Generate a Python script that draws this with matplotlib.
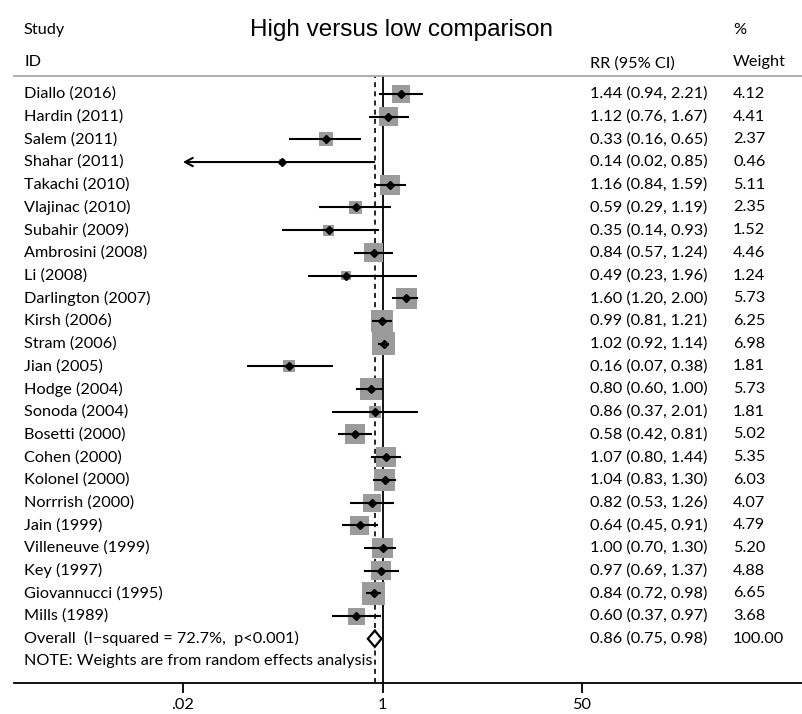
import matplotlib
matplotlib.use("Agg")
import matplotlib.pyplot as plt
import matplotlib.transforms as mtransforms
from matplotlib.patches import Polygon
from matplotlib.lines import Line2D

studies = ["Diallo (2016)", "Hardin (2011)", "Salem (2011)", "Shahar (2011)", "Takachi (2010)",
           "Vlajinac (2010)", "Subahir (2009)", "Ambrosini (2008)", "Li (2008)", "Darlington (2007)",
           "Kirsh (2006)", "Stram (2006)", "Jian (2005)", "Hodge (2004)", "Sonoda (2004)",
           "Bosetti (2000)", "Cohen (2000)", "Kolonel (2000)", "Norrrish (2000)", "Jain (1999)",
           "Villeneuve (1999)", "Key (1997)", "Giovannucci (1995)", "Mills (1989)"]
rr = [1.44, 1.12, 0.33, 0.14, 1.16, 0.59, 0.35, 0.84, 0.49, 1.60, 0.99, 1.02, 0.16, 0.80, 0.86,
      0.58, 1.07, 1.04, 0.82, 0.64, 1.00, 0.97, 0.84, 0.60]
lo = [0.94, 0.76, 0.16, 0.02, 0.84, 0.29, 0.14, 0.57, 0.23, 1.20, 0.81, 0.92, 0.07, 0.60, 0.37,
      0.42, 0.80, 0.83, 0.53, 0.45, 0.70, 0.69, 0.72, 0.37]
hi = [2.21, 1.67, 0.65, 0.85, 1.59, 1.19, 0.93, 1.24, 1.96, 2.00, 1.21, 1.14, 0.38, 1.00, 2.01,
      0.81, 1.44, 1.30, 1.26, 0.91, 1.30, 1.37, 0.98, 0.97]
weights = [4.12, 4.41, 2.37, 0.46, 5.11, 2.35, 1.52, 4.46, 1.24, 5.73, 6.25, 6.98, 1.81, 5.73, 1.81,
           5.02, 5.35, 6.03, 4.07, 4.79, 5.20, 4.88, 6.65, 3.68]
overall_label = "Overall  (I\u2212squared = 72.7%,  p<0.001)"
overall_rr, overall_lo, overall_hi, overall_w = 0.86, 0.75, 0.98, 100.00
note = "NOTE: Weights are from random effects analysis"
title = "High versus low comparison"
tick_vals = [0.02, 1, 50]
tick_labels = [".02", "1", "50"]

W, H = 802, 714
fig = plt.figure(figsize=(W / 100, H / 100), dpi=100)
ax = fig.add_axes([183 / W, (H - 683) / H, 399 / W, (683 - 76) / H])
ax.set_xscale("log")
ax.set_xlim(0.02, 50)
n = len(studies)
ax.set_ylim(25.95, -0.79)
for s in ["top", "left", "right", "bottom"]:
    ax.spines[s].set_visible(False)
ax.set_yticks([])
fs = 11.7
fam = "Lato"
ax.xaxis.set_major_locator(matplotlib.ticker.FixedLocator(tick_vals))
ax.xaxis.set_minor_locator(matplotlib.ticker.NullLocator())
ax.set_xticklabels(tick_labels, fontsize=fs, family=fam)
ax.tick_params(axis="x", length=7, width=1.3, pad=4, direction="out")

rows = list(range(n))
ax.scatter(rr, rows, s=[41 * w for w in weights], marker="s", color="#9b9b9b", zorder=2, linewidths=0)
for i in rows:
    if lo[i] <= 0.02:
        ax.annotate("", xy=(0.02, i), xytext=(hi[i], i),
                    arrowprops=dict(arrowstyle="->,head_length=0.55,head_width=0.3", lw=1.5,
                                    color="black", shrinkA=0, shrinkB=0), zorder=3)
    else:
        ax.plot([lo[i], hi[i]], [i, i], color="black", lw=1.5, zorder=3, solid_capstyle="butt")
ax.plot(rr, rows, linestyle="none", marker="D", ms=4.2, color="black", zorder=4)

ax.axvline(1, color="black", lw=1.3, zorder=1)
ax.axvline(overall_rr, color="black", lw=1.2, ls=(0, (3, 2.5)), zorder=1)

yo = n
ax.add_patch(Polygon([(overall_lo, yo), (overall_rr, yo - 0.36), (overall_hi, yo), (overall_rr, yo + 0.36)],
                     closed=True, facecolor="white", edgecolor="black", lw=1.6, zorder=5))

fig.add_artist(Line2D([14 / W, 1], [(H - 683) / H] * 2, color="black", lw=1.3))
fig.add_artist(Line2D([14 / W, 1], [(H - 76) / H] * 2, color="#a8a8a8", lw=1.3))

tr = mtransforms.blended_transform_factory(fig.transFigure, ax.transData)
for i in rows:
    fig.text(24 / W, i, studies[i], transform=tr, va="center", ha="left", fontsize=fs, family=fam)
    fig.text(590 / W, i, f"{rr[i]:.2f} ({lo[i]:.2f}, {hi[i]:.2f})", transform=tr, va="center",
             ha="left", fontsize=fs, family=fam)
    fig.text(733 / W, i, f"{weights[i]:.2f}", transform=tr, va="center", ha="left", fontsize=fs, family=fam)
fig.text(24 / W, yo, overall_label, transform=tr, va="center", ha="left", fontsize=fs, family=fam)
fig.text(590 / W, yo, f"{overall_rr:.2f} ({overall_lo:.2f}, {overall_hi:.2f})", transform=tr,
         va="center", ha="left", fontsize=fs, family=fam)
fig.text(733 / W, yo, f"{overall_w:.2f}", transform=tr, va="center", ha="left", fontsize=fs, family=fam)
fig.text(24 / W, yo + 1, note, transform=tr, va="center", ha="left", fontsize=fs, family=fam)

fig.text(24 / W, 1 - 30 / H, "Study", va="center", ha="left", fontsize=fs, family=fam)
fig.text(24 / W, 1 - 62 / H, "ID", va="center", ha="left", fontsize=fs, family=fam)
fig.text(590 / W, 1 - 64 / H, "RR (95% CI)", va="center", ha="left", fontsize=fs, family=fam)
fig.text(733 / W, 1 - 30 / H, "%", va="center", ha="left", fontsize=fs, family=fam)
fig.text(733 / W, 1 - 62 / H, "Weight", va="center", ha="left", fontsize=fs, family=fam)
fig.text(402 / W, 1 - 30 / H, title, va="center", ha="center", fontsize=17.5, family="Liberation Sans")

fig.savefig("out.png", dpi=100)
